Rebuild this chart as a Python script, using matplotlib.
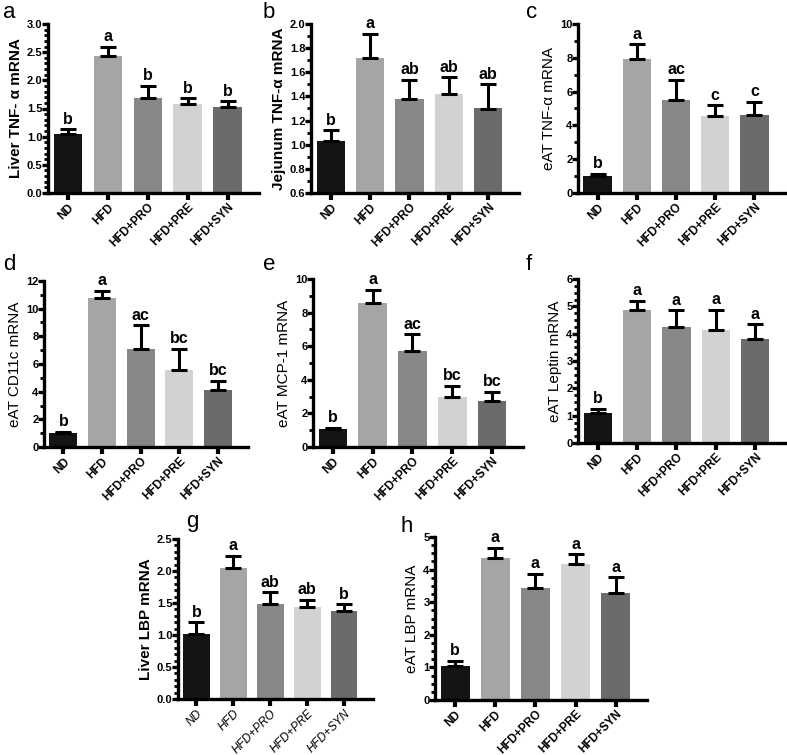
import matplotlib
matplotlib.use('Agg')
import matplotlib.pyplot as plt
from matplotlib.ticker import MultipleLocator

plt.rcParams['font.family'] = ['Liberation Sans', 'DejaVu Sans']

# groups and bar colours
groups = ['ND', 'HFD', 'HFD+PRO', 'HFD+PRE', 'HFD+SYN']
bar_colors = ['#141414', '#a5a5a5', '#878787', '#d2d2d2', '#6b6b6b']

# panel data: means, upper error (SEM) and significance letters
a_mean = [1.05, 2.43, 1.68, 1.58, 1.53]
a_err = [0.08, 0.17, 0.22, 0.10, 0.10]
a_sig = ['b', 'a', 'b', 'b', 'b']

b_mean = [1.03, 1.72, 1.38, 1.42, 1.30]
b_err = [0.09, 0.20, 0.16, 0.14, 0.20]
b_sig = ['b', 'a', 'ab', 'ab', 'ab']

c_mean = [1.0, 7.9, 5.5, 4.55, 4.6]
c_err = [0.15, 0.9, 1.2, 0.65, 0.8]
c_sig = ['b', 'a', 'ac', 'c', 'c']

d_mean = [1.0, 10.8, 7.1, 5.6, 4.1]
d_err = [0.1, 0.5, 1.7, 1.5, 0.7]
d_sig = ['b', 'a', 'ac', 'bc', 'bc']

e_mean = [1.05, 8.55, 5.7, 3.0, 2.75]
e_err = [0.1, 0.8, 1.0, 0.65, 0.55]
e_sig = ['b', 'a', 'ac', 'bc', 'bc']

f_mean = [1.1, 4.88, 4.25, 4.12, 3.8]
f_err = [0.15, 0.32, 0.6, 0.76, 0.55]
f_sig = ['b', 'a', 'a', 'a', 'a']

g_mean = [1.02, 2.05, 1.49, 1.43, 1.37]
g_err = [0.18, 0.19, 0.18, 0.12, 0.11]
g_sig = ['b', 'a', 'ab', 'ab', 'b']

h_mean = [1.05, 4.37, 3.45, 4.17, 3.27]
h_err = [0.15, 0.30, 0.42, 0.30, 0.50]
h_sig = ['b', 'a', 'a', 'a', 'a']

W, H = 787, 755
fig = plt.figure(figsize=(W / 100, H / 100), dpi=100)


def px_axes(x0, y_top, x1, y_bot):
    return fig.add_axes([x0 / W, 1 - y_bot / H, (x1 - x0) / W, (y_bot - y_top) / H])


def panel(box, letter, letter_xy, means, errs, sigs, ylabel, ylim, major, minor,
          fmt, ylabel_bold=True, italic_x=False):
    ax = px_axes(*box)
    x = range(len(groups))
    ax.bar(x, [m - ylim[0] for m in means], bottom=ylim[0], width=0.72,
           color=bar_colors, zorder=2)
    ax.errorbar(x, means, yerr=[[0] * len(errs), errs], fmt='none', ecolor='black',
                elinewidth=2.2, capsize=5.5, capthick=2.2, zorder=3)
    span = ylim[1] - ylim[0]
    for xi, m, e, s in zip(x, means, errs, sigs):
        ax.text(xi, m + e + span * 0.015, s, ha='center', va='bottom',
                fontsize=11.5, fontweight='bold')
    ax.set_xlim(-0.5, 4.78)
    ax.set_ylim(*ylim)
    ax.yaxis.set_major_locator(MultipleLocator(major))
    ax.yaxis.set_minor_locator(MultipleLocator(minor))
    ax.yaxis.set_major_formatter(plt.FormatStrFormatter(fmt))
    for side in ['top', 'right']:
        ax.spines[side].set_visible(False)
    for side in ['left', 'bottom']:
        ax.spines[side].set_linewidth(2.4)
    ax.tick_params(axis='y', which='major', length=4, width=2.4, labelsize=8, pad=0)
    ax.tick_params(axis='y', which='minor', length=3, width=2.0)
    ax.tick_params(axis='x', length=5, width=3, pad=1)
    ax.set_xticks(list(x))
    ax.set_xticklabels(groups, rotation=45, ha='right', rotation_mode='anchor',
                       fontsize=8.5, fontweight='normal' if italic_x else 'bold',
                       style='italic' if italic_x else 'normal')
    for lab in ax.get_yticklabels():
        lab.set_fontweight('bold')
    ax.set_ylabel(ylabel, fontsize=11, fontweight='bold' if ylabel_bold else 'normal',
                  labelpad=3)
    fig.text(letter_xy[0] / W, 1 - letter_xy[1] / H, letter, fontsize=16,
             ha='left', va='center')
    return ax


panel((48, 24, 259, 193), 'a', (3, 12), a_mean, a_err, a_sig,
      'Liver TNF- α mRNA', (0, 3.0), 0.5, 0.1, '%.1f')
panel((311, 24, 519, 193), 'b', (263, 12), b_mean, b_err, b_sig,
      'Jejunum TNF-α mRNA', (0.6, 2.0), 0.2, 0.1, '%.1f')
panel((578, 24, 785, 193), 'c', (526, 12), c_mean, c_err, c_sig,
      'eAT TNF-α mRNA', (0, 10), 2, 1, '%d', ylabel_bold=False)
panel((44, 281, 248, 447), 'd', (3, 264), d_mean, d_err, d_sig,
      'eAT CD11c mRNA', (0, 12), 2, 1, '%d', ylabel_bold=False)
panel((313, 279, 523, 447), 'e', (263, 265), e_mean, e_err, e_sig,
      'eAT MCP-1 mRNA', (0, 10), 2, 1, '%d', ylabel_bold=False)
panel((578, 279, 786, 443), 'f', (526, 265), f_mean, f_err, f_sig,
      'eAT Leptin mRNA', (0, 6), 1, 0.25, '%d', ylabel_bold=False)
panel((178, 539, 373, 699), 'g', (186, 521), g_mean, g_err, g_sig,
      'Liver LBP mRNA', (0, 2.5), 0.5, 0.1, '%.1f', italic_x=True)
panel((435, 537, 647, 700), 'h', (400, 527), h_mean, h_err, h_sig,
      'eAT LBP mRNA', (0, 5), 1, 0.25, '%d', ylabel_bold=False)

fig.savefig('out.png', dpi=100)
